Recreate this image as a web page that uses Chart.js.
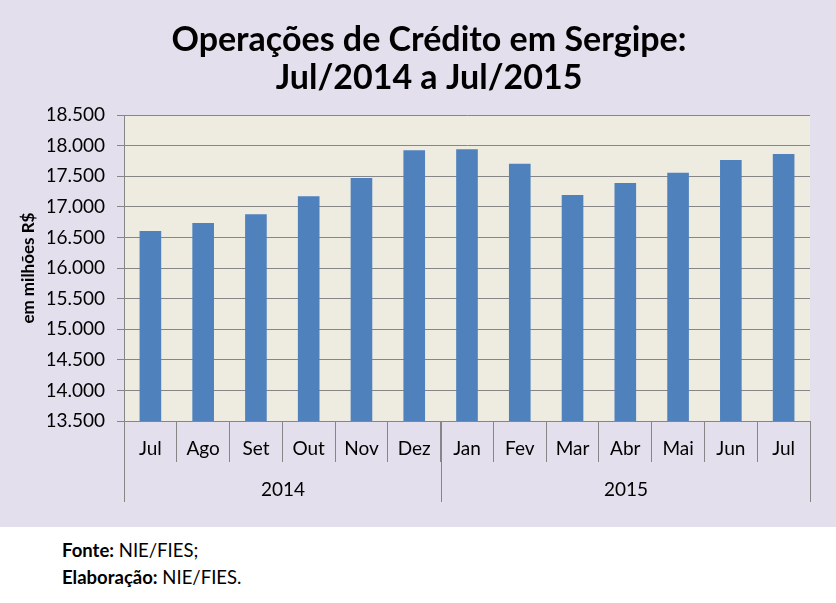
<!DOCTYPE html>
<html>
<head>
<meta charset="utf-8">
<script src="https://cdn.jsdelivr.net/npm/chart.js@4/dist/chart.umd.min.js"></script>
<style>
  body { margin: 0; background: #fff; font-family: Lato, sans-serif; }
  #wrap { width: 836px; height: 527px; background: #E4DFEC; }
  #foot { padding: 10px 0 0 62px; font-size: 18.5px; line-height: 27px; color: #000; }
</style>
</head>
<body>
<div id="wrap"><canvas id="chart" width="836" height="527"></canvas></div>
<div id="foot">
  <div><b>Fonte:</b> NIE/FIES;</div>
  <div><b>Elaboração:</b> NIE/FIES.</div>
</div>
<script>
// data (R$ milhões)
const months = ["Jul", "Ago", "Set", "Out", "Nov", "Dez", "Jan", "Fev", "Mar", "Abr", "Mai", "Jun", "Jul"];
const values = [16605, 16735, 16882, 17176, 17471, 17928, 17944, 17705, 17193, 17389, 17558, 17765, 17863];
const years = ["2014", "2015"];
const yearCounts = [6, 7];

const gridColor = "#868686";

// beige plot area
const plotBg = {
    id: "plotBg",
    beforeDraw(chart) {
        const a = chart.chartArea;
        const ctx = chart.ctx;
        ctx.save();
        ctx.fillStyle = "#EEECE1";
        ctx.fillRect(a.left, a.top, a.right - a.left, a.bottom - a.top);
        ctx.restore();
    }
};

// second row of the x axis: years
const yearAxis = {
    id: "yearAxis",
    afterDraw(chart) {
        const x = chart.scales.x;
        const ctx = chart.ctx;
        const half = (x.getPixelForValue(1) - x.getPixelForValue(0)) / 2;
        const top = chart.chartArea.bottom;
        ctx.save();
        ctx.strokeStyle = gridColor;
        ctx.lineWidth = 1;
        ctx.fillStyle = "#000";
        ctx.font = "19px Lato";
        ctx.textAlign = "center";
        ctx.textBaseline = "middle";
        let start = 0;
        years.forEach((yr, i) => {
            const end = start + yearCounts[i] - 1;
            const l = Math.round(x.getPixelForValue(start) - half) + 0.5;
            const r = Math.round(x.getPixelForValue(end) + half) + 0.5;
            ctx.beginPath();
            ctx.moveTo(l, top);
            ctx.lineTo(l, top + 81);
            ctx.moveTo(r, top);
            ctx.lineTo(r, top + 81);
            ctx.stroke();
            ctx.fillText(yr, (l + r) / 2, top + 69);
            start = end + 1;
        });
        ctx.restore();
    }
};

new Chart(document.getElementById("chart"), {
    type: "bar",
    data: {
        labels: months,
        datasets: [{
            data: values,
            backgroundColor: "#4F81BD",
            barPercentage: 0.41,
            categoryPercentage: 1
        }]
    },
    options: {
        responsive: false,
        animation: false,
        devicePixelRatio: 1,
        // left padding moves the title centre to match the original
        layout: { padding: { left: 48, right: 26, top: 0, bottom: 0 } },
        plugins: {
            legend: { display: false },
            tooltip: { enabled: false },
            title: {
                display: true,
                text: ["Operações de Crédito em Sergipe:", "Jul/2014 a Jul/2015"],
                color: "#000",
                font: { family: "Lato", size: 34, weight: "bold", lineHeight: 1.12 },
                padding: { top: 21, bottom: 18 }
            }
        },
        scales: {
            y: {
                min: 13500,
                max: 18500,
                afterFit: s => { s.width = 76; },
                ticks: {
                    stepSize: 500,
                    padding: 12,
                    color: "#000",
                    font: { family: "Lato", size: 19 },
                    callback: v => v.toLocaleString("pt-BR")
                },
                grid: { color: gridColor, tickLength: 7 },
                border: { display: true, color: gridColor },
                title: {
                    display: true,
                    text: "em milhões R$",
                    color: "#000",
                    font: { family: "Lato", size: 17, weight: "bold" },
                    padding: { top: -30, bottom: 0 }
                }
            },
            x: {
                afterFit: s => { s.height = 106; },
                ticks: {
                    padding: -25,
                    color: "#000",
                    font: { family: "Lato", size: 19 },
                    maxRotation: 0
                },
                grid: { offset: true, drawOnChartArea: false, color: gridColor, tickLength: 41 },
                border: { display: true, color: gridColor }
            }
        }
    },
    plugins: [plotBg, yearAxis]
});
</script>
</body>
</html>
